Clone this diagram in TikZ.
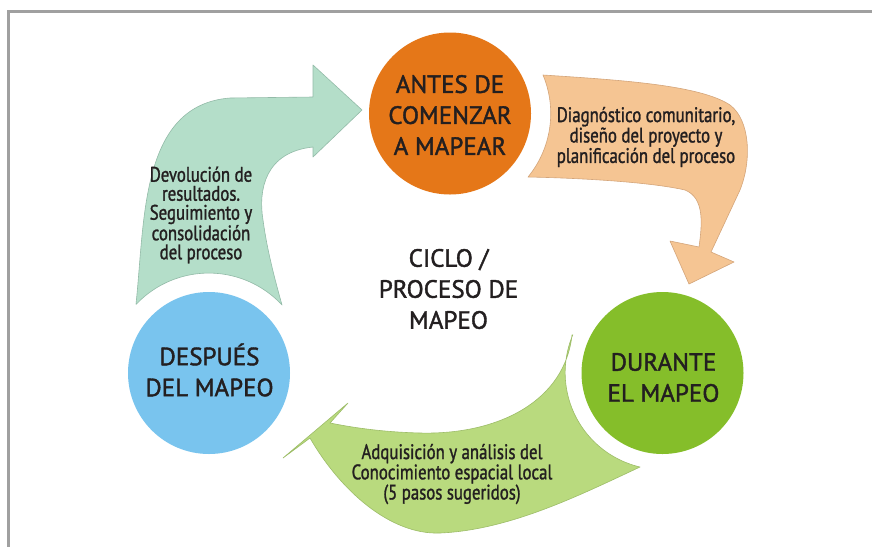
\documentclass[tikz,border=0pt]{standalone}
\usepackage{fontspec}
\setmainfont{PT Sans}
\newfontfamily\medfont[FakeBold=1.6]{PT Sans}
\newfontfamily\condfont[FakeStretch=0.8,FakeBold=1.3]{PT Sans}
\definecolor{orangeC}{HTML}{E57718}
\definecolor{greenC}{HTML}{85BE2A}
\definecolor{blueC}{HTML}{79C4EE}
\definecolor{mintA}{HTML}{B4DEC9}
\definecolor{mintO}{HTML}{93BBA8}
\definecolor{peachA}{HTML}{F5C593}
\definecolor{peachO}{HTML}{D4A57A}
\definecolor{limeA}{HTML}{B9DA7E}
\definecolor{limeO}{HTML}{9DBD68}
\definecolor{txt}{HTML}{231F20}
\definecolor{frame}{HTML}{A0A0A0}
\begin{document}
\begin{tikzpicture}[x=1pt,y=-1pt,
  circ/.style={circle, minimum size=162pt, inner sep=0pt, draw=none},
  ctext/.style={align=center, inner sep=0pt, text=txt, font=\medfont\fontsize{25}{31}\selectfont},
  atext/.style={align=center, inner sep=0pt, text=txt, font=\condfont\fontsize{21}{19}\selectfont},
  framestyle/.style={draw=frame, line width=2.6pt},
  arrowshape/.style={line width=0.6pt, line join=round}]
\useasboundingbox (0,0) rectangle (872,547);
\fill[white] (0,0) rectangle (872,547);
% frame
\coordinate (fTL) at (8.5,11.4);
\coordinate (fTR) at (872,11.4);
\coordinate (fBL) at (8.5,547);
\draw[framestyle] (fTR) -- (fTL) -- (fBL);
% mint arrow (Devolucion)
\draw[arrowshape, fill=mintA, draw=mintO]
  (136,304) .. controls (145,220) and (140,105) .. (230,98)
  -- (313,97) -- (313,65) -- (362,110) -- (313,157) -- (313,147)
  .. controls (265,152) and (258,190) .. (263,220)
  .. controls (267,250) and (275,280) .. (282,305)
  arc[start angle=-42.9, end angle=-136.6, radius=100] -- cycle;
% peach arrow (Diagnostico)
\draw[arrowshape, fill=peachA, draw=peachO]
  (543,75) .. controls (620,80) and (700,85) .. (730,105)
  .. controls (750,120) and (752,160) .. (740,190)
  -- (711,252) -- (734,262) -- (689,284) -- (670,241) -- (699,247)
  .. controls (702,225) and (705,198) .. (685,190)
  .. controls (650,182) and (580,178) .. (528,177)
  arc[start angle=39.4, end angle=-22.2, radius=100] -- cycle;
% lime arrow (Adquisicion)
\draw[arrowshape, fill=limeA, draw=limeO]
  (572,335) .. controls (565,400) and (500,435) .. (420,433)
  .. controls (380,432) and (350,427) .. (330,423)
  -- (348,403) -- (283,458) -- (310,438)
  .. controls (340,490) and (390,535) .. (440,533)
  .. controls (510,530) and (580,495) .. (640,467)
  arc[start angle=103.2, end angle=202.9, radius=97] -- cycle;
% circles
\node[circ, fill=orangeC] (antes) at (450,113.5) {};
\node[circ, fill=greenC] (durante) at (662.5,373) {};
\node[circ, fill=blueC] (despues) at (209,373) {};
% circle texts
\node[ctext] (antesT) at (450,115) {ANTES DE\\COMENZAR\\A MAPEAR};
\node[ctext] (duranteT) at (663.5,377.5) {DURANTE\\EL MAPEO};
\node[ctext] (despuesT) at (209.5,370) {DESPUÉS\\DEL MAPEO};
\node[ctext] (ciclo) at (448.5,289) {CICLO /\\PROCESO DE\\MAPEO};
% arrow texts
\node[atext] (devT) at (201,215) {Devolución de\\resultados.\\Seguimiento y\\consolidación\\del proceso};
\node[atext] (diagT) at (646,137) {Diagnóstico comunitario,\\diseño del proyecto y\\planificación del proceso};
\node[atext] (adqT) at (452,474) {Adquisición y análisis del\\Conocimiento espacial local\\(5 pasos sugeridos)};
\end{tikzpicture}
\end{document}
